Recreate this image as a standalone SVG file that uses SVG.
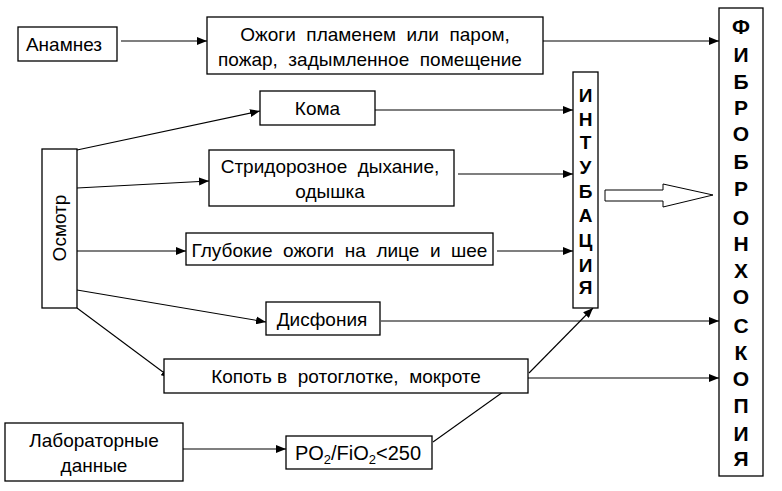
<svg xmlns="http://www.w3.org/2000/svg" width="782" height="491" viewBox="0 0 782 491">
<style>
.b{fill:#fff;stroke:#000;stroke-width:1.3}
.t{font-family:"Liberation Sans",Arial,sans-serif;font-size:19px;fill:#000;text-anchor:middle}
.v{font-family:"Liberation Sans",Arial,sans-serif;font-size:21px;font-weight:bold;fill:#000;text-anchor:middle}
.w{font-family:"Liberation Sans",Arial,sans-serif;font-size:19px;font-weight:bold;fill:#000;text-anchor:middle}
.c{stroke:#000;stroke-width:1.1;fill:none}
</style>
<defs>
<marker id="a" viewBox="0 0 10 8" refX="10" refY="4" markerWidth="10" markerHeight="8" markerUnits="userSpaceOnUse" orient="auto">
<path d="M0,0 L10,4 L0,8 Z" fill="#000"/>
</marker>
</defs>
<rect width="782" height="491" fill="#fff"/>
<g id="connectors">
<line class="c" x1="121" y1="41" x2="207" y2="41" marker-end="url(#a)"/>
<line class="c" x1="543" y1="41" x2="719" y2="41" marker-end="url(#a)"/>
<line class="c" x1="77" y1="150" x2="260" y2="111" marker-end="url(#a)"/>
<line class="c" x1="375" y1="110" x2="573" y2="110" marker-end="url(#a)"/>
<line class="c" x1="77" y1="188" x2="209" y2="181" marker-end="url(#a)"/>
<line class="c" x1="458" y1="174" x2="573" y2="174" marker-end="url(#a)"/>
<line class="c" x1="77" y1="251" x2="186" y2="251" marker-end="url(#a)"/>
<line class="c" x1="497" y1="251" x2="573" y2="251" marker-end="url(#a)"/>
<line class="c" x1="77" y1="290" x2="266" y2="322" marker-end="url(#a)"/>
<line class="c" x1="381" y1="321" x2="719" y2="321" marker-end="url(#a)"/>
<line class="c" x1="77" y1="308" x2="171" y2="378" marker-end="url(#a)"/>
<line class="c" x1="528" y1="378" x2="719" y2="378" marker-end="url(#a)"/>
<line class="c" x1="529" y1="373" x2="593" y2="308" marker-end="url(#a)"/>
<line class="c" x1="183" y1="449" x2="286" y2="449" marker-end="url(#a)"/>
<line class="c" x1="433" y1="442" x2="503" y2="392"/>
<path d="M605,190 L663,190 L663,184 L713,195 L663,207 L663,201 L605,201 Z" fill="#fff" stroke="#000" stroke-width="1"/>
</g>
<g id="anamnez">
<rect class="b" x="18" y="27" width="99" height="34"/>
<text class="t" x="64" y="51">Анамнез</text>
</g>
<g id="ozhogi">
<rect class="b" x="207" y="17" width="336" height="57"/>
<text class="t" x="375" y="41" xml:space="preserve">Ожоги  пламенем  или  паром,</text>
<text class="t" x="370" y="66" xml:space="preserve">пожар,  задымленное  помещение</text>
</g>
<g id="fibro">
<rect class="b" x="719" y="8" width="44" height="468"/>
<text class="v" x="741" y="34">Ф</text>
<text class="v" x="741" y="62">И</text>
<text class="v" x="741" y="89">Б</text>
<text class="v" x="741" y="115">Р</text>
<text class="v" x="741" y="141">О</text>
<text class="v" x="741" y="169">Б</text>
<text class="v" x="741" y="196">Р</text>
<text class="v" x="741" y="225">О</text>
<text class="v" x="741" y="251">Н</text>
<text class="v" x="741" y="278">Х</text>
<text class="v" x="741" y="304">О</text>
<text class="v" x="741" y="333">С</text>
<text class="v" x="741" y="360">К</text>
<text class="v" x="741" y="386">О</text>
<text class="v" x="741" y="413">П</text>
<text class="v" x="741" y="441">И</text>
<text class="v" x="741" y="466">Я</text>
</g>
<g id="intub">
<rect class="b" x="573" y="72" width="25" height="236"/>
<text class="w" x="585.5" y="102">И</text>
<text class="w" x="585.5" y="126">Н</text>
<text class="w" x="585.5" y="149">Т</text>
<text class="w" x="585.5" y="174">У</text>
<text class="w" x="585.5" y="198">Б</text>
<text class="w" x="585.5" y="222">А</text>
<text class="w" x="585.5" y="247">Ц</text>
<text class="w" x="585.5" y="272">И</text>
<text class="w" x="585.5" y="294">Я</text>
</g>
<g id="koma">
<rect class="b" x="260" y="91" width="115" height="34"/>
<text class="t" x="317.5" y="115">Кома</text>
</g>
<g id="osmotr">
<rect class="b" x="42" y="149" width="35" height="159"/>
<text class="t" transform="translate(66,228) rotate(-90)">Осмотр</text>
</g>
<g id="stridor">
<rect class="b" x="209" y="150" width="245" height="56"/>
<text class="t" x="330" y="173" xml:space="preserve">Стридорозное  дыхание,</text>
<text class="t" x="330" y="198">одышка</text>
</g>
<g id="glub">
<rect class="b" x="186" y="233" width="307" height="32"/>
<text class="t" x="339.5" y="257" xml:space="preserve">Глубокие  ожоги  на  лице  и  шее</text>
</g>
<g id="disf">
<rect class="b" x="266" y="302" width="114" height="33"/>
<text class="t" x="322" y="326">Дисфония</text>
</g>
<g id="kopot">
<rect class="b" x="164" y="359" width="364" height="34"/>
<text class="t" x="346" y="383" xml:space="preserve">Копоть в  ротоглотке,  мокроте</text>
</g>
<g id="lab">
<rect class="b" x="5" y="423" width="178" height="58"/>
<text class="t" x="94" y="447">Лабораторные</text>
<text class="t" x="94" y="472">данные</text>
</g>
<g id="po2">
<rect class="b" x="286" y="436" width="146" height="33"/>
<text class="t" x="358" y="460" style="font-size:20px">PO<tspan dy="4" font-size="13">2</tspan><tspan dy="-4">/FiO</tspan><tspan dy="4" font-size="13">2</tspan><tspan dy="-4">&lt;250</tspan></text>
</g>
</svg>
